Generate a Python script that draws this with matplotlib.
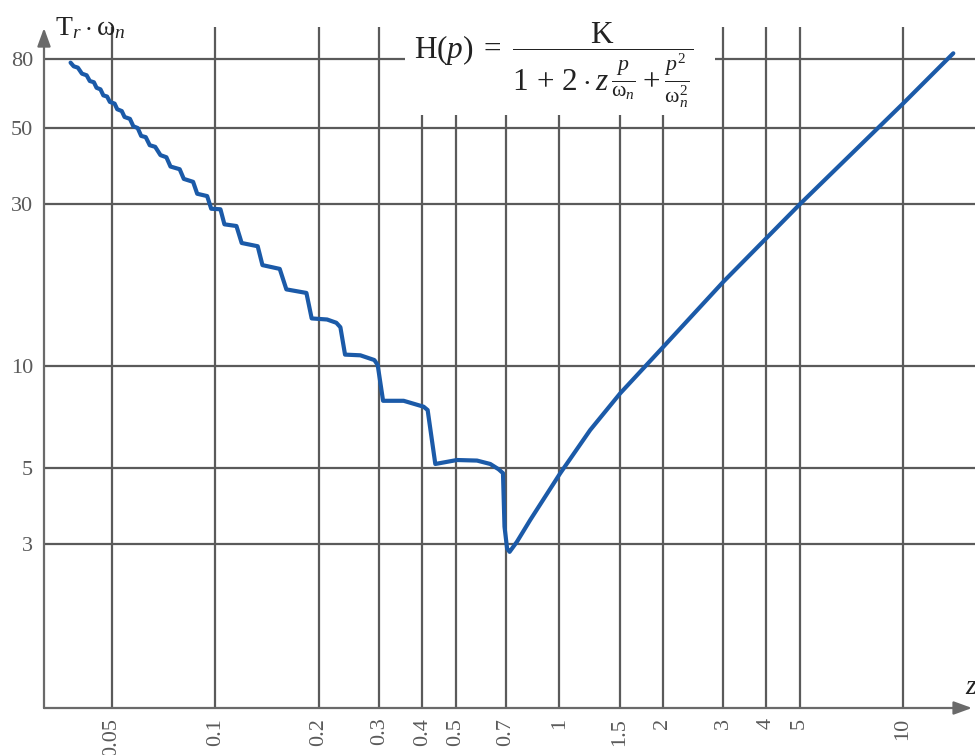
import matplotlib
matplotlib.use("Agg")
import matplotlib.pyplot as plt
from matplotlib.patches import Rectangle
from matplotlib.ticker import FixedLocator, NullLocator

plt.rcParams['font.family'] = 'Liberation Serif'
plt.rcParams['mathtext.fontset'] = 'custom'
plt.rcParams['mathtext.rm'] = 'Liberation Serif'
plt.rcParams['mathtext.it'] = 'Liberation Serif:italic'
plt.rcParams['mathtext.default'] = 'rm'

# damping ratio z and normalised response time T_r * w_n
z_vals = [0.0379, 0.0387, 0.0398, 0.0409, 0.0422, 0.0431, 0.0443, 0.0451, 0.0463, 0.0472,
          0.0484, 0.0493, 0.0509, 0.0518, 0.0534, 0.0544, 0.0564, 0.0577, 0.0594, 0.0608,
          0.0627, 0.0644, 0.0668, 0.0692, 0.0720, 0.0740, 0.0787, 0.0809, 0.0861, 0.0885,
          0.0946, 0.0972, 0.1034, 0.1062, 0.1151, 0.1192, 0.1327, 0.1370, 0.1538, 0.1608,
          0.1839, 0.1905, 0.2112, 0.2247, 0.2309, 0.2382, 0.2639, 0.2899, 0.2964, 0.3073,
          0.3527, 0.4032, 0.4142, 0.4360, 0.5042, 0.5765, 0.630, 0.666, 0.686, 0.693,
          0.705, 0.717, 0.753, 0.824, 1.007, 1.230, 1.504, 2.010, 3.003, 5.019,
          10.02, 14.0]
t_vals = [78.0, 76.1, 75.4, 72.4, 71.6, 68.9, 68.3, 65.8, 65.1, 62.5,
          62.0, 59.8, 59.1, 56.9, 56.2, 54.0, 53.3, 50.7, 50.1, 47.5,
          47.1, 44.6, 44.1, 41.7, 41.1, 38.6, 37.9, 35.5, 34.8, 32.1,
          31.6, 29.0, 28.9, 26.1, 25.8, 23.0, 22.5, 19.8, 19.3, 16.8,
          16.4, 13.8, 13.7, 13.4, 13.0, 10.8, 10.75, 10.41, 10.07, 7.90,
          7.90, 7.59, 7.42, 5.15, 5.29, 5.27, 5.15, 4.97, 4.84, 3.37,
          2.91, 2.84, 3.04, 3.53, 4.84, 6.48, 8.31, 11.40, 17.70, 29.96,
          59.26, 83.1]

x_ticks = [0.05, 0.1, 0.2, 0.3, 0.4, 0.5, 0.7, 1, 1.5, 2, 3, 4, 5, 10]
x_labels = ['0.05', '0.1', '0.2', '0.3', '0.4', '0.5', '0.7', '1', '1.5', '2', '3', '4', '5', '10']
y_ticks = [3, 5, 10, 30, 50, 80]
y_labels = ['3', '5', '10', '30', '50', '80']

grid_col = '#5a5a5a'
axis_col = '#6a6a6a'
curve_col = '#1b5aa8'
label_col = '#5a5a5a'

fig = plt.figure(figsize=(9.75, 7.55), dpi=100)
ax = fig.add_axes([44 / 975, 47 / 755, 931 / 975, 681 / 755])
ax.set_xscale('log')
ax.set_yscale('log')
ax.set_xlim(0.03172, 16.19)
ax.set_ylim(0.9866, 99.3)

ax.xaxis.set_major_locator(FixedLocator(x_ticks))
ax.xaxis.set_minor_locator(NullLocator())
ax.set_xticklabels(x_labels, rotation=90, va='top', ha='center')
ax.yaxis.set_major_locator(FixedLocator(y_ticks))
ax.yaxis.set_minor_locator(NullLocator())
ax.set_yticklabels(y_labels)
ax.tick_params(length=0, labelsize=16, labelcolor=label_col)
ax.tick_params(axis='x', pad=7)
ax.tick_params(axis='y', pad=8)
ax.grid(True, color=grid_col, linewidth=1.6, zorder=1)
ax.set_axisbelow(True)
for s in ax.spines.values():
    s.set_visible(False)

# axes with arrow heads
arrow = dict(arrowstyle='-|>,head_length=0.55,head_width=0.2', color=axis_col,
             lw=1.6, mutation_scale=20, shrinkA=0, shrinkB=0)
ax.annotate('', xy=(0.9968, 0), xytext=(0, 0), xycoords='axes fraction', arrowprops=arrow, zorder=4)
ax.annotate('', xy=(0, 0.9985), xytext=(0, 0), xycoords='axes fraction', arrowprops=arrow, zorder=4)

ax.plot(z_vals, t_vals, color=curve_col, linewidth=3, solid_joinstyle='round',
        solid_capstyle='round', zorder=3)

# white area behind the transfer function
fig.patches.append(Rectangle((405 / 975, 1 - 115 / 755), 310 / 975, 115 / 755,
                             transform=fig.transFigure, facecolor='white', edgecolor='none', zorder=2))

fig.text(554 / 975, 1 - 65 / 755,
         r'$\mathrm{H}(\mathit{p})\;=\;\dfrac{\mathrm{K}}{1\,+\,2\cdot \mathit{z}\,\frac{\mathit{p}}{\omega_{\mathit{n}}}+\frac{\mathit{p}^{2}}{\omega_{\mathit{n}}^{2}}}$',
         fontsize=22.5, color='#222222', ha='center', va='center', zorder=5)
fig.text(55 / 975, 1 - 28 / 755, r'$\mathrm{T}_{\mathit{r}}\cdot\omega_{\mathit{n}}$',
         fontsize=20, color='#222222', ha='left', va='center')
fig.text(965 / 975, 1 - 688 / 755, 'z', fontsize=20, style='italic', color='#222222',
         ha='left', va='center')

fig.savefig('out.png', dpi=100)
